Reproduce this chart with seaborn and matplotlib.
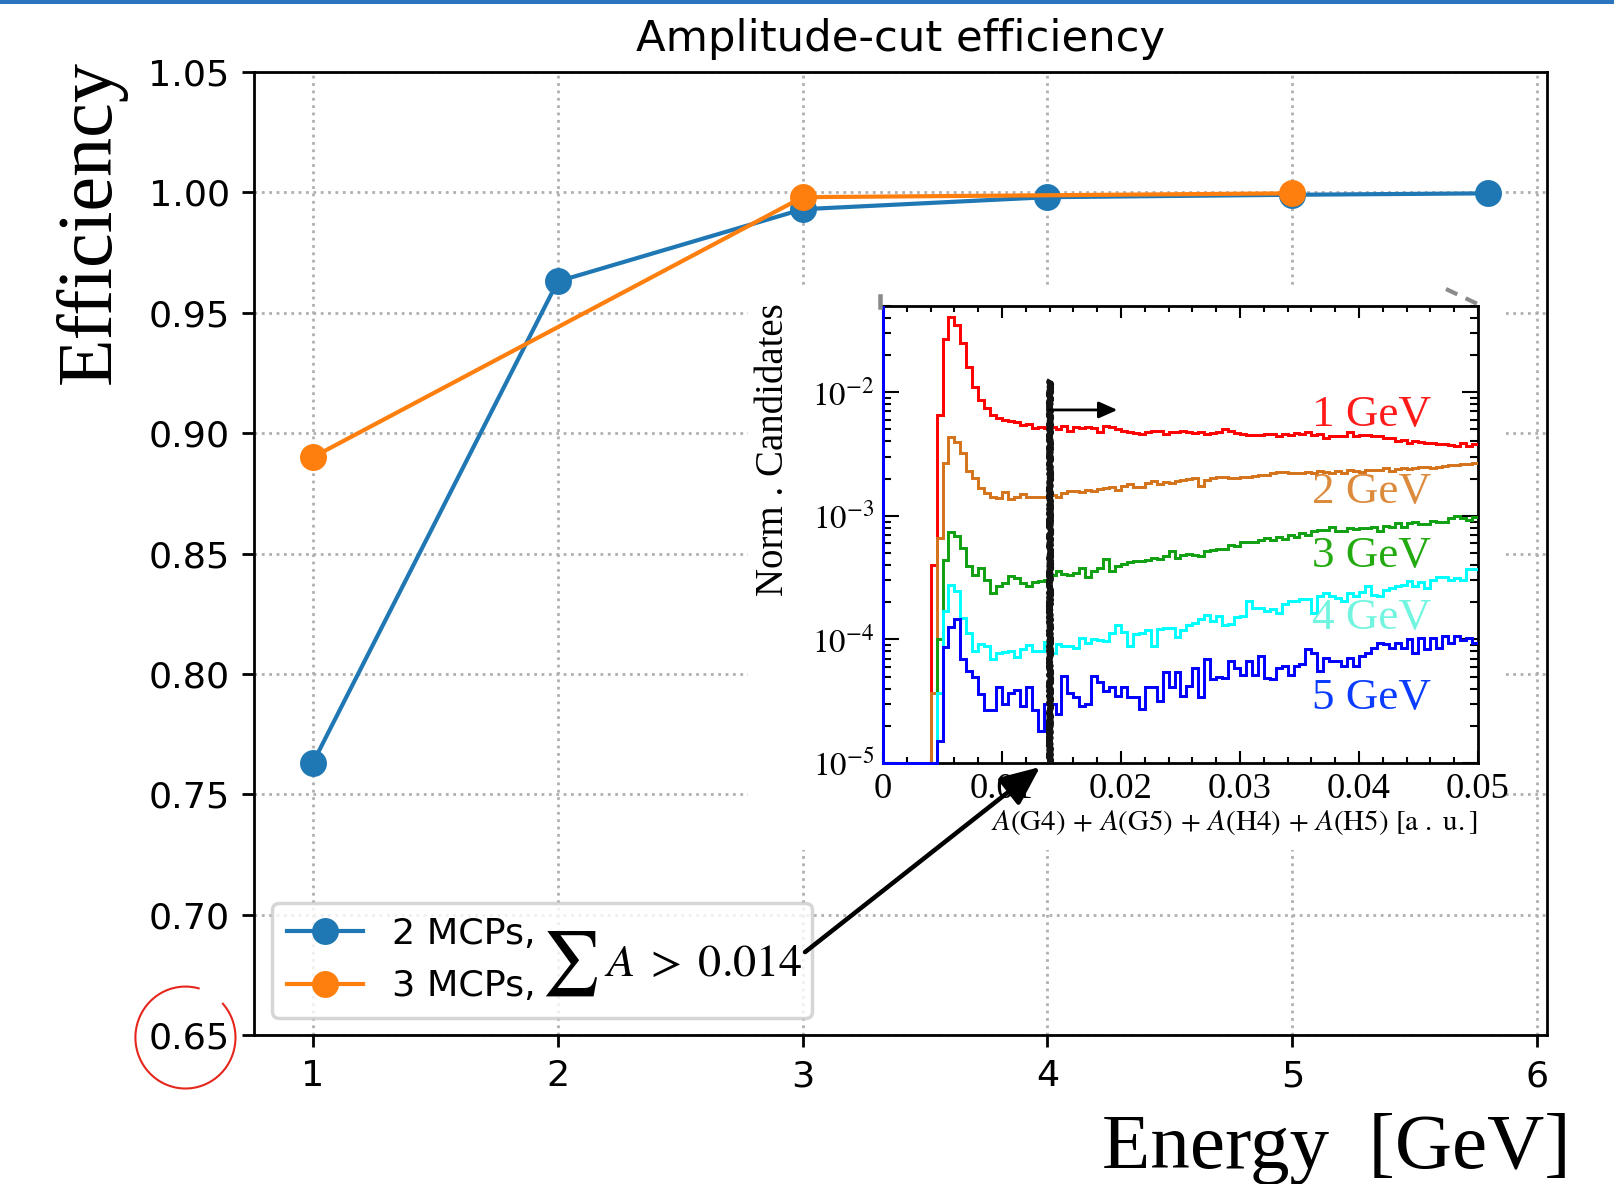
import numpy as np
import matplotlib
matplotlib.use("Agg")
import matplotlib.pyplot as plt
import seaborn as sns
from matplotlib.patches import Rectangle, Arc, FancyArrowPatch
from matplotlib.lines import Line2D
from matplotlib.ticker import (MultipleLocator, LogLocator, FuncFormatter,
                               NullFormatter)
from matplotlib.transforms import Bbox, TransformedBbox

plt.rcParams["mathtext.fontset"] = "stix"
SERIF = ["Liberation Serif", "DejaVu Serif"]

# ---------------------------------------------------------------- main data
energy_2mcp = [1, 2, 3, 4, 5, 5.8]
eff_2mcp = [0.763, 0.963, 0.993, 0.998, 0.999, 0.9996]
energy_3mcp = [1, 3, 5]
eff_3mcp = [0.890, 0.998, 0.9996]
series_labels = ["2 MCPs,", "3 MCPs,"]
series_colors = ["#1f77b4", "#ff7f0e"]
cut_value = 0.014

# ------------------------------------------------ inset histograms (x 1e-4)
bin_edges = np.linspace(0.0, 0.05, 101)
norm_1gev = [
    0, 0, 0, 0, 0, 0, 0, 0, 4.0, 66,
    270, 410, 350, 250, 160, 110, 87, 75, 65, 62,
    60, 59, 57, 54, 55, 51, 52, 51, 52, 50,
    53, 49, 52, 51, 52, 51, 48, 53, 52, 50,
    49, 48, 47, 46, 48, 49, 49, 46, 48, 48,
    49, 48, 47, 48, 46, 47, 48, 50, 49, 47,
    46, 45, 45, 45, 46, 46, 44, 46, 45, 47,
    46, 48, 45, 46, 43, 44, 44, 44, 48, 44,
    45, 45, 44, 44, 43, 43, 40, 41, 39, 40,
    39.5, 39, 39, 38.5, 38.5, 37.5, 37, 39, 37, 38.5]
norm_2gev = [
    0, 0, 0, 0, 0, 0, 0, 0, 0.37, 6.6,
    26.9, 43.7, 39.7, 32.4, 23.2, 20.1, 16.9, 15.2, 14.3, 13.9,
    15.7, 13.7, 14.3, 15.0, 14.1, 14.1, 14.1, 14.3, 14.7, 14.3,
    15.2, 15.8, 16.0, 15.7, 16.3, 16.0, 16.6, 16.9, 17.2, 16.2,
    17.6, 18.0, 17.2, 17.0, 18.6, 19.0, 18.2, 18.7, 18.5, 19.2,
    19.5, 19.8, 20.1, 17.5, 19.5, 20.1, 20.6, 20.6, 20.2, 20.4,
    20.7, 20.8, 21.2, 21.4, 21.5, 22.1, 22.6, 22.8, 22.4, 22.1,
    22.2, 22.8, 22.1, 23.2, 22.8, 22.1, 23.0, 22.4, 23.5, 23.0,
    22.8, 23.5, 23.5, 23.3, 24.2, 23.2, 23.8, 24.2, 24.0, 24.4,
    25.0, 24.8, 24.6, 25.0, 25.4, 25.6, 25.8, 26.2, 26.4, 26.9]
norm_3gev = [
    0, 0, 0, 0, 0, 0, 0, 0, 0, 1.0,
    4.42, 7.34, 6.90, 5.48, 3.90, 3.34, 3.78, 3.05, 2.38, 2.69,
    2.86, 3.24, 3.14, 2.86, 2.73, 2.90, 2.95, 3.05, 3.30, 3.60,
    3.40, 3.35, 3.45, 3.80, 3.20, 3.55, 3.80, 4.50, 3.55, 3.90,
    4.10, 4.20, 4.30, 4.35, 4.40, 4.55, 4.50, 4.70, 5.15, 4.55,
    4.85, 4.93, 4.80, 4.75, 5.15, 5.30, 5.40, 5.35, 5.85, 5.70,
    6.20, 6.10, 6.10, 6.40, 6.60, 6.40, 6.70, 6.50, 7.05, 6.80,
    7.25, 7.05, 7.60, 7.70, 7.65, 8.10, 7.50, 7.50, 8.05, 7.80,
    7.95, 8.00, 8.20, 7.60, 8.30, 8.20, 8.70, 8.20, 8.80, 9.00,
    8.60, 8.60, 9.10, 9.00, 9.00, 9.60, 10.0, 9.60, 9.30, 9.70]
norm_4gev = [
    0, 0, 0, 0, 0, 0, 0, 0, 0, 0.37,
    1.69, 2.78, 2.45, 1.49, 1.13, 0.81, 0.91, 0.88, 0.70, 0.78,
    0.79, 0.81, 0.72, 0.83, 0.90, 0.80, 0.80, 0.96, 0.78, 0.91,
    0.89, 0.88, 0.86, 1.03, 0.94, 1.00, 0.98, 0.97, 1.13, 1.32,
    1.15, 0.89, 1.10, 1.12, 1.20, 0.88, 1.21, 1.23, 1.24, 1.05,
    1.20, 1.32, 1.35, 1.45, 1.59, 1.41, 1.54, 1.31, 1.33, 1.52,
    1.54, 2.04, 1.80, 1.80, 1.69, 1.77, 1.64, 1.92, 2.04, 2.04,
    2.12, 2.12, 1.64, 2.23, 2.38, 2.25, 2.18, 2.06, 2.38, 2.23,
    2.41, 2.69, 2.30, 2.23, 2.53, 2.60, 2.69, 2.78, 2.95, 2.69,
    2.90, 2.60, 3.00, 3.20, 3.20, 3.05, 3.14, 3.05, 3.72, 3.72]
norm_5gev = [
    0, 0, 0, 0, 0, 0, 0, 0, 0, 0.15,
    0.87, 1.27, 1.47, 0.69, 0.56, 0.50, 0.36, 0.27, 0.27, 0.41,
    0.30, 0.37, 0.39, 0.29, 0.41, 0.27, 0.18, 0.30, 0.30, 0.25,
    0.51, 0.37, 0.345, 0.29, 0.30, 0.51, 0.45, 0.385, 0.41, 0.35,
    0.41, 0.34, 0.34, 0.275, 0.41, 0.41, 0.32, 0.54, 0.41, 0.54,
    0.35, 0.42, 0.59, 0.34, 0.69, 0.475, 0.50, 0.49, 0.67, 0.59,
    0.52, 0.67, 0.52, 0.73, 0.49, 0.475, 0.59, 0.61, 0.52, 0.61,
    0.63, 0.83, 0.78, 0.56, 0.71, 0.67, 0.67, 0.61, 0.71, 0.61,
    0.73, 0.78, 0.86, 0.94, 0.91, 0.86, 0.94, 0.86, 1.00, 0.78,
    1.03, 0.83, 1.03, 0.86, 1.06, 0.94, 1.06, 0.98, 1.03, 0.94]
underflow_5gev = 1.0          # pedestal entries below zero, far off scale
hist_unit = 1e-4
energy_labels = ["1 GeV", "2 GeV", "3 GeV", "4 GeV", "5 GeV"]
hist_colors = ["#ff0000", "#d4731c", "#11a011", "#00ffff", "#0000ff"]
label_colors = ["#ff1a1a", "#dc8a3c", "#22aa10", "#72f5e0", "#0a3cff"]
y_floor, y_top = 1e-5, 0.05

# ---------------------------------------------------------------- figure
fig = plt.figure(figsize=(1614 / 250, 1184 / 250), dpi=250)
ax = fig.add_axes([0.1574, 0.1258, 0.8011, 0.8134])

for xs, ys, col, lab in zip([energy_2mcp, energy_3mcp], [eff_2mcp, eff_3mcp],
                            series_colors, series_labels):
    sns.lineplot(x=xs, y=ys, ax=ax, color=col, marker="o", markersize=7,
                 markeredgecolor=col, linewidth=1.2, label=lab,
                 errorbar=None)

ax.set_ylim(0.65, 1.05)
ax.set_yticks(np.arange(0.65, 1.0501, 0.05))
ax.tick_params(labelsize=10.5)
ax.grid(True, linestyle=":", color="#b0b0b0", linewidth=0.8)
ax.set_title("Amplitude-cut efficiency", fontsize=12.5)
ax.set_xlabel("")
ax.set_ylabel("")

handles, _ = ax.get_legend_handles_labels()
ax.legend(handles, series_labels, loc="lower left",
          bbox_to_anchor=(0.0139, 0.0177, 0.4176, 0.2), mode="expand",
          borderaxespad=0, fontsize=10.5, handlelength=2.1)

# white backdrop of the inset panel, hiding the grid behind it
fig.add_artist(Rectangle((0.4634, 0.2821), 0.4697, 0.4738,
                         transform=fig.transFigure, facecolor="white",
                         edgecolor="none", zorder=1))

# ---------------------------------------------------------------- inset
ax_in = fig.add_axes([0.5471, 0.3556, 0.3686, 0.386])
ax_in.set_zorder(2)
ax_in.set_yscale("log")
ax_in.set_xlim(0, 0.05)
ax_in.set_ylim(y_floor, y_top)

clip = TransformedBbox(Bbox([[-0.006, -0.006], [1.0, 1.0]]), ax_in.transAxes)
bin_w = bin_edges[1] - bin_edges[0]
all_hists = [norm_1gev, norm_2gev, norm_3gev, norm_4gev, norm_5gev]
for i, (vals, col) in enumerate(zip(all_hists, hist_colors)):
    v = np.asarray(vals, dtype=float) * hist_unit
    edges = bin_edges
    if i == len(all_hists) - 1:
        v = np.concatenate([[underflow_5gev], v])
        edges = np.concatenate([[bin_edges[0] - bin_w], bin_edges])
    shown = np.where(v > 0, v, y_floor)
    st = ax_in.stairs(shown, edges, baseline=None, color=col, lw=0.85,
                      zorder=3)
    st.set_clip_path(None)
    st.set_clip_box(clip)

cut_line, = ax_in.plot([cut_value, cut_value], [y_floor, 1.25e-2],
                       color="#141414", lw=1.8, zorder=4,
                       solid_capstyle="butt")
cut_line.set_sketch_params(scale=1.0, length=3, randomness=4)
ax_in.annotate("", xy=(0.0197, 7.2e-3), xytext=(cut_value, 7.2e-3),
               arrowprops=dict(arrowstyle="-|>,head_length=0.45,head_width=0.2",
                               color="black", lw=0.8, mutation_scale=10,
                               shrinkA=0, shrinkB=0), zorder=5)

for lab, col, yy in zip(energy_labels, label_colors,
                        [0.761, 0.593, 0.453, 0.318, 0.142]):
    ax_in.text(0.921, yy, lab, color=col, fontsize=13, family=SERIF,
               ha="right", va="center", transform=ax_in.transAxes, zorder=6)

ax_in.xaxis.set_major_locator(MultipleLocator(0.01))
ax_in.xaxis.set_minor_locator(MultipleLocator(0.002))
ax_in.xaxis.set_major_formatter(
    FuncFormatter(lambda v, p: "0" if abs(v) < 1e-12 else f"{v:.2f}"))
ax_in.yaxis.set_major_locator(LogLocator(base=10, numticks=10))
ax_in.yaxis.set_minor_locator(LogLocator(base=10, subs=np.arange(2, 10),
                                         numticks=40))
ax_in.yaxis.set_minor_formatter(NullFormatter())
ax_in.yaxis.set_major_formatter(
    FuncFormatter(lambda v, p: rf"$10^{{{int(round(np.log10(v)))}}}$"))
ax_in.tick_params(which="both", direction="in", top=True, right=True,
                  width=0.6, color="black")
ax_in.tick_params(axis="x", which="major", length=3.5, pad=3,
                  labelsize=10.5, labelfontfamily="Liberation Serif")
ax_in.tick_params(axis="x", which="minor", length=1.8)
ax_in.tick_params(axis="y", which="major", length=4.5, pad=2.5,
                  labelsize=9.5)
ax_in.tick_params(axis="y", which="minor", length=2.3)
for sp in ax_in.spines.values():
    sp.set_linewidth(0.8)
    sp.set_color("black")

ax_in.text(1.0, -0.13,
           r"$A(\mathrm{G4})\,+\,A(\mathrm{G5})\,+\,A(\mathrm{H4})\,+\,"
           r"A(\mathrm{H5})\ [\mathrm{a\ .\ u.}]$",
           transform=ax_in.transAxes, ha="right", va="center", fontsize=8.35)
fig.text(0.479, 0.744, "Norm . Candidates", rotation=90, ha="center",
         va="top", fontsize=11.2, family=SERIF)

# leftover frame marks around the inset panel
fig.add_artist(Line2D([1446 / 1614, 1484 / 1614], [1 - 289 / 1184, 1 - 307 / 1184],
                      transform=fig.transFigure, color="#8a8a8a", lw=1.2,
                      ls=(0, (3, 2.2)), zorder=3))
fig.add_artist(Line2D([880 / 1614, 880 / 1614], [1 - 296 / 1184, 1 - 307 / 1184],
                      transform=fig.transFigure, color="#8a8a8a", lw=1.3,
                      zorder=3))

# ---------------------------------------------------------------- annotations
fig.text(0.3352, 0.186, r"$\sum$", fontsize=18.5, ha="left", va="center",
         zorder=6)
fig.text(0.3742, 0.1757, rf"$A\;>\;{cut_value}$", fontsize=13.3, ha="left",
         va="baseline", zorder=6)
fig.add_artist(FancyArrowPatch((0.4988, 0.1959), (0.6444, 0.3522),
                               transform=fig.transFigure,
                               arrowstyle="-|>,head_length=0.8,head_width=0.35",
                               mutation_scale=12, lw=1.3, color="black",
                               shrinkA=0, shrinkB=0, zorder=6))

fig.text(0.056, 0.949, "Efficiency", rotation=90, ha="center", va="top",
         fontsize=22.5, family=SERIF)
fig.text(0.973, 0.0135, "Energy  [GeV]", ha="right", va="baseline",
         fontsize=22.8, family=SERIF)

fig.add_artist(Arc((0.1149, 0.1237), 0.062, 0.0861, theta1=78, theta2=412,
                   transform=fig.transFigure, color="#e6261d", lw=0.6,
                   zorder=5))
fig.add_artist(Rectangle((0, 1 - 4 / 1184), 1, 4 / 1184,
                         transform=fig.transFigure, facecolor="#2b74be",
                         edgecolor="none", zorder=7))

fig.savefig("out.png", dpi=250)
